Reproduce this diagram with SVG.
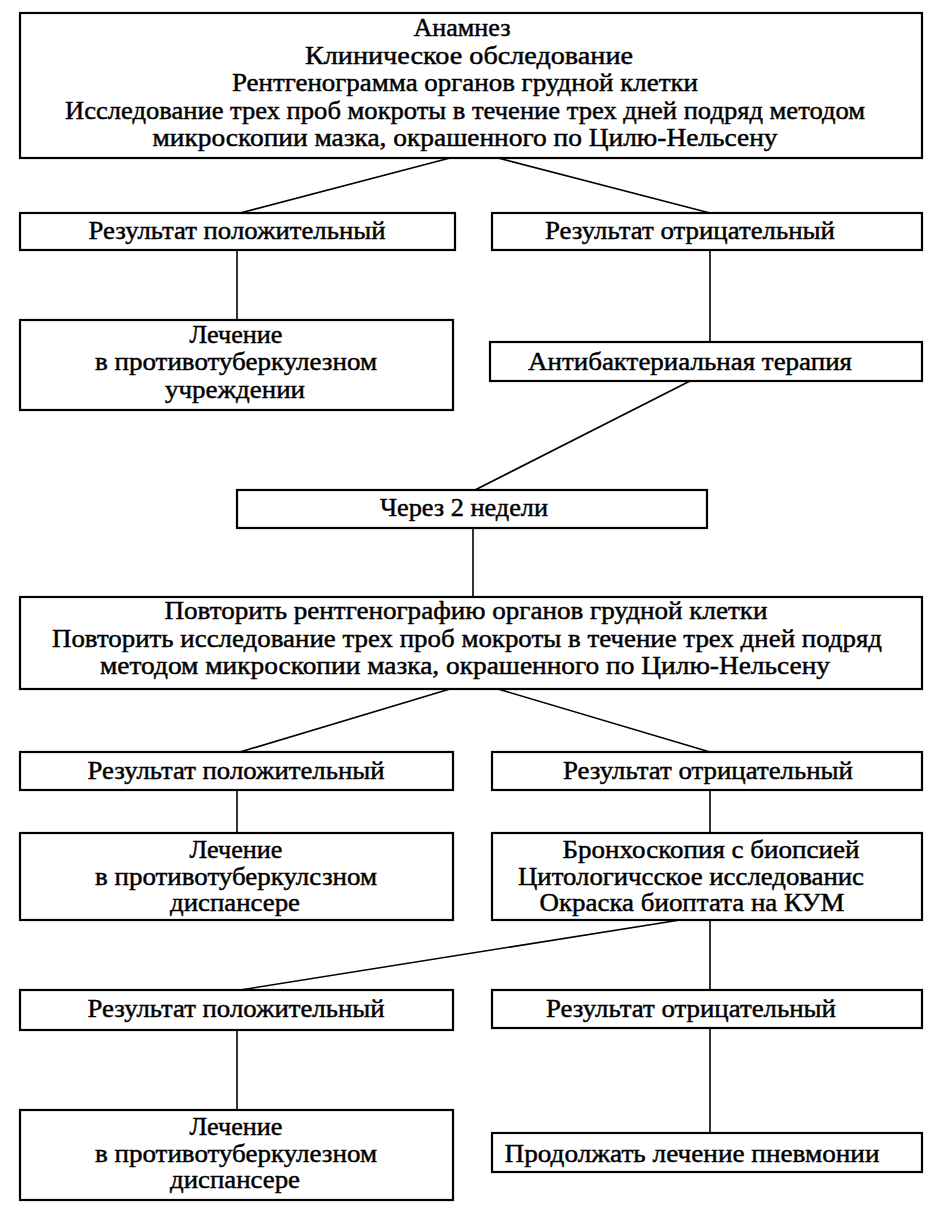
<svg xmlns="http://www.w3.org/2000/svg" width="937" height="1213" viewBox="0 0 937 1213">
<style>
rect{fill:#fff;stroke:#000;stroke-width:2.2}
line{stroke:#000;stroke-width:1.6}
text{font-family:"Liberation Serif","Times New Roman",serif;font-size:25px;fill:#000;stroke:#000;stroke-width:0.45;text-anchor:middle}
</style>
<rect x="0" y="0" width="937" height="1213" style="stroke:none"/>
<g id="connectors">
<line x1="450" y1="158" x2="240" y2="213"/>
<line x1="498" y1="158" x2="710" y2="213"/>
<line x1="237" y1="250" x2="237" y2="320"/>
<line x1="710" y1="250" x2="710" y2="342"/>
<line x1="690" y1="381" x2="475" y2="490"/>
<line x1="473" y1="528" x2="473" y2="597"/>
<line x1="450" y1="689" x2="240" y2="752"/>
<line x1="498" y1="689" x2="710" y2="752"/>
<line x1="237" y1="790" x2="237" y2="833"/>
<line x1="710" y1="790" x2="710" y2="833"/>
<line x1="680" y1="920" x2="240" y2="990"/>
<line x1="710" y1="920" x2="710" y2="990"/>
<line x1="237" y1="1030" x2="237" y2="1110"/>
<line x1="710" y1="1028" x2="710" y2="1133"/>
</g>
<g id="n1">
<rect x="20" y="13" width="902" height="145"/>
<text x="462" y="36" textLength="97" lengthAdjust="spacingAndGlyphs">Анамнез</text>
<text x="469" y="64" textLength="328" lengthAdjust="spacingAndGlyphs">Клиническое обследование</text>
<text x="465" y="91" textLength="466" lengthAdjust="spacingAndGlyphs">Рентгенограмма органов грудной клетки</text>
<text x="465" y="119" textLength="800" lengthAdjust="spacingAndGlyphs">Исследование трех проб мокроты в течение трех дней подряд методом</text>
<text x="465" y="146" textLength="625" lengthAdjust="spacingAndGlyphs">микроскопии мазка, окрашенного по Цилю-Нельсену</text>
</g>
<g id="n2">
<rect x="20" y="213" width="435" height="37"/>
<text x="237" y="239" textLength="297" lengthAdjust="spacingAndGlyphs">Результат положительный</text>
</g>
<g id="n3">
<rect x="492" y="213" width="430" height="37"/>
<text x="690" y="239" textLength="290" lengthAdjust="spacingAndGlyphs">Результат отрицательный</text>
</g>
<g id="n4">
<rect x="20" y="320" width="433" height="90"/>
<text x="236" y="343" textLength="93" lengthAdjust="spacingAndGlyphs">Лечение</text>
<text x="236" y="370" textLength="282" lengthAdjust="spacingAndGlyphs">в противотуберкулезном</text>
<text x="235" y="398" textLength="140" lengthAdjust="spacingAndGlyphs">учреждении</text>
</g>
<g id="n5">
<rect x="490" y="342" width="432" height="39"/>
<text x="690" y="370" textLength="324" lengthAdjust="spacingAndGlyphs">Антибактериальная терапия</text>
</g>
<g id="n6">
<rect x="237" y="490" width="470" height="38"/>
<text x="464" y="516" textLength="168" lengthAdjust="spacingAndGlyphs">Через 2 недели</text>
</g>
<g id="n7">
<rect x="20" y="597" width="902" height="92"/>
<text x="466" y="619" textLength="603" lengthAdjust="spacingAndGlyphs">Повторить рентгенографию органов грудной клетки</text>
<text x="467" y="647" textLength="830" lengthAdjust="spacingAndGlyphs">Повторить исследование трех проб мокроты в течение трех дней подряд</text>
<text x="465" y="674" textLength="730" lengthAdjust="spacingAndGlyphs">методом микроскопии мазка, окрашенного по Цилю-Нельсену</text>
</g>
<g id="n8">
<rect x="20" y="752" width="433" height="38"/>
<text x="236" y="779" textLength="297" lengthAdjust="spacingAndGlyphs">Результат положительный</text>
</g>
<g id="n9">
<rect x="492" y="752" width="430" height="38"/>
<text x="708" y="779" textLength="290" lengthAdjust="spacingAndGlyphs">Результат отрицательный</text>
</g>
<g id="n10">
<rect x="20" y="833" width="433" height="87"/>
<text x="236" y="858" textLength="93" lengthAdjust="spacingAndGlyphs">Лечение</text>
<text x="236" y="885" textLength="282" lengthAdjust="spacingAndGlyphs">в противотуберкулсзном</text>
<text x="235" y="911" textLength="130" lengthAdjust="spacingAndGlyphs">диспансере</text>
</g>
<g id="n11">
<rect x="492" y="833" width="430" height="87"/>
<text x="711" y="858" textLength="297" lengthAdjust="spacingAndGlyphs">Бронхоскопия с биопсией</text>
<text x="691" y="885" textLength="346" lengthAdjust="spacingAndGlyphs">Цитологичсское исследованис</text>
<text x="692" y="911" textLength="305" lengthAdjust="spacingAndGlyphs">Окраска биоптата на КУМ</text>
</g>
<g id="n12">
<rect x="20" y="990" width="433" height="40"/>
<text x="236" y="1017" textLength="297" lengthAdjust="spacingAndGlyphs">Результат положительный</text>
</g>
<g id="n13">
<rect x="492" y="990" width="430" height="38"/>
<text x="691" y="1017" textLength="290" lengthAdjust="spacingAndGlyphs">Результат отрицательный</text>
</g>
<g id="n14">
<rect x="20" y="1110" width="433" height="90"/>
<text x="236" y="1135" textLength="93" lengthAdjust="spacingAndGlyphs">Лечение</text>
<text x="236" y="1162" textLength="282" lengthAdjust="spacingAndGlyphs">в противотуберкулезном</text>
<text x="235" y="1188" textLength="130" lengthAdjust="spacingAndGlyphs">диспансере</text>
</g>
<g id="n15">
<rect x="492" y="1133" width="430" height="39"/>
<text x="692" y="1162" textLength="375" lengthAdjust="spacingAndGlyphs">Продолжать лечение пневмонии</text>
</g>
</svg>
